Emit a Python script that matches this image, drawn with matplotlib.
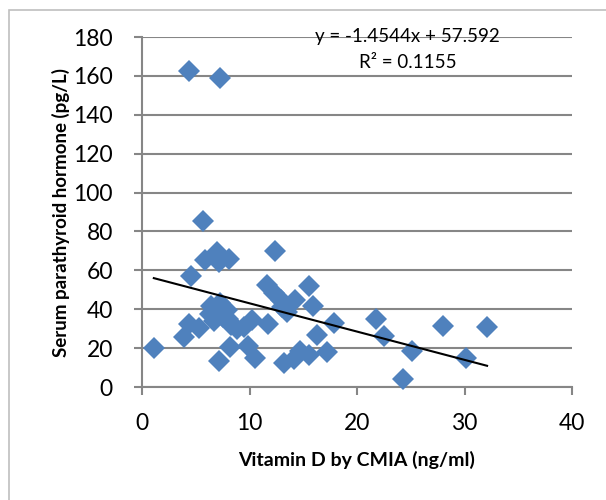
import numpy as np
import matplotlib.pyplot as plt
from matplotlib.patches import Rectangle

plt.rcParams['font.family'] = ['Lato', 'DejaVu Sans']

# Vitamin D (ng/ml) vs serum PTH (pg/L)
vit_d = [1.1, 3.9, 4.4, 5.3, 4.6, 5.7, 4.4, 7.3, 5.9, 7.0, 7.2, 8.1,
         6.4, 6.3, 6.7, 7.3, 7.1, 7.5, 7.9, 8.0, 8.3, 8.8, 9.5, 10.2,
         9.9, 8.2, 10.5, 7.2, 11.7, 11.6, 12.4, 12.3, 12.9, 13.5, 14.2,
         13.0, 13.2, 14.1, 14.7, 15.5, 15.5, 15.9, 16.3, 17.2, 17.9,
         21.8, 22.5, 25.1, 24.3, 28.0, 30.1, 32.1]
pth = [20.3, 25.5, 32.5, 30.5, 57.3, 85.5, 162.3, 159.1, 65.2, 69.5, 64.5, 66.0,
       41.5, 37.5, 34.0, 43.0, 38.5, 36.0, 39.5, 35.0, 32.0, 30.0, 31.0, 34.5,
       21.0, 20.5, 15.0, 13.5, 32.5, 52.5, 70.2, 48.5, 44.5, 38.5, 44.8,
       41.0, 12.2, 14.5, 18.3, 16.3, 52.2, 41.5, 27.0, 17.8, 32.8,
       34.8, 26.3, 18.5, 4.1, 31.4, 14.8, 31.0]

slope = -1.4544
intercept = 57.592
r2 = 0.1155

x_ticks = [0, 10, 20, 30, 40]
y_ticks = [0, 20, 40, 60, 80, 100, 120, 140, 160, 180]

fig = plt.figure(figsize=(6.06, 5.0), dpi=100)
ax = fig.add_axes([142/606, 1 - 387/500, 430/606, 350/500])

# outer chart border (only left and top edges are inside the picture)
fig.patches.append(Rectangle((8.5/606, -0.1), 1.2, 1.0 - 9.5/500 + 0.1,
                             transform=fig.transFigure, fill=False,
                             edgecolor='#bfbfbf', linewidth=1.2))

ax.set_xlim(0, 40)
ax.set_ylim(0, 180)
ax.set_xticks(x_ticks)
ax.set_yticks(y_ticks)
ax.grid(axis='y', color='#868686', linewidth=1.5)
ax.set_axisbelow(True)

for s in ['top', 'right']:
    ax.spines[s].set_visible(False)
for s in ['left', 'bottom']:
    ax.spines[s].set_color('#868686')
    ax.spines[s].set_linewidth(1.5)
ax.tick_params(direction='out', length=6, width=1.5, color='#868686',
               labelsize=16.5)
ax.tick_params(axis='y', pad=15)
ax.tick_params(axis='x', pad=13)

ax.plot(vit_d, pth, linestyle='none', marker='D', markersize=11,
        color='#4f81bd', markeredgewidth=0, clip_on=False, zorder=3)

xs = np.array([min(vit_d), max(vit_d)])
ax.plot(xs, slope * xs + intercept, color='black', linewidth=1.5, zorder=4)

ax.text(24.7, 180.5, f'y = {slope}x + {intercept}', ha='center', va='center', fontsize=13.5)
ax.text(24.7, 167, f'R² = {r2}', ha='center', va='center', fontsize=13.5)

ax.set_xlabel('Vitamin D by CMIA (ng/ml)', fontsize=14, fontweight='bold', labelpad=12)
ax.set_ylabel('Serum parathyroid hormone (pg/L)', fontsize=13.5, fontweight='bold', labelpad=2)

fig.savefig('out.png', dpi=100)
